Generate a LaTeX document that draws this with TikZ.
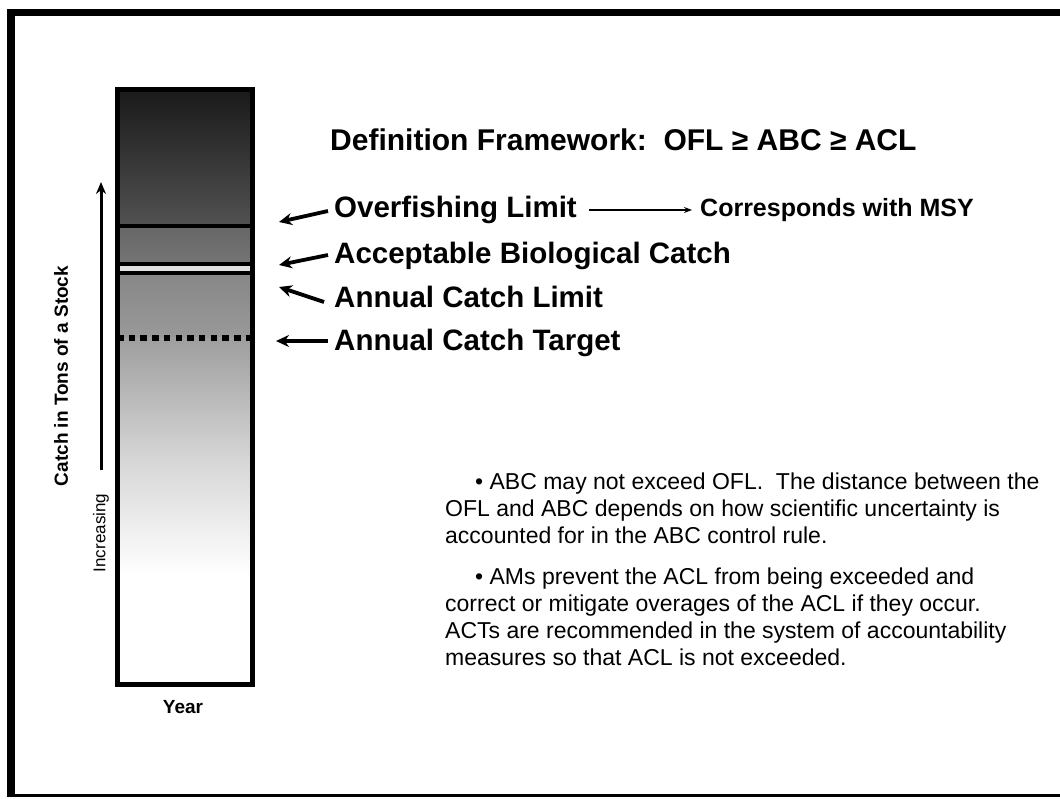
\documentclass[tikz,border=0pt]{standalone}
\usepackage{fontspec}
\setmainfont{Liberation Sans}
\usetikzlibrary{arrows.meta}
\begin{document}
\begin{tikzpicture}[x=1pt,y=-1pt,
  lbl/.style={anchor=west,inner sep=0pt,font=\bfseries\fontsize{29.5}{34}\selectfont},
  ptr/.style={line width=3.8pt,-{Stealth[length=13pt,width=12pt]}},
  limline/.style={line width=4pt,black},
  body/.style={anchor=north west,inner sep=0pt,align=left,font=\fontsize{23}{27}\selectfont}]
\useasboundingbox (0,0) rectangle (1060,799);
\fill[white] (0,0) rectangle (1060,799);
% frame
\draw[line width=7.5pt] (7,12.5) -- (1060,12.5);
\draw[line width=8pt] (11,9) -- (11,797);
\draw[line width=3pt] (7,795) -- (1060,795);
% column shading
\shade[top color=black!90,bottom color=black!68] (117,89) rectangle (253,226);
\shade[top color=black!60,bottom color=black!54] (117,226) rectangle (253,264);
\fill[black!12] (117,264) rectangle (253,273);
\shade[top color=black!47,bottom color=black!40] (117,273) rectangle (253,338);
\shade[top color=black!38,bottom color=black!16] (117,338) rectangle (253,460);
\shade[top color=black!16,bottom color=white] (117,460) rectangle (253,575);
% limit lines
\draw[limline] (117,226) -- (253,226);
\draw[limline] (117,264) -- (253,264);
\draw[limline] (117,273) -- (253,273);
\draw[line width=6.5pt,dash pattern=on 6.5pt off 5.2pt] (117,338) -- (253,338);
% column border
\draw[line width=5pt] (117.5,89.5) rectangle (252.5,684.5);
% axis
\coordinate (axbot) at (101,470);
\coordinate (axtop) at (101,182);
\draw[line width=3pt,-{Stealth[length=12pt,width=10pt]}] (axbot) -- (axtop);
\node[rotate=90,inner sep=0pt,font=\fontsize{17}{20}\selectfont] (inc) at (101,533) {Increasing};
\node[rotate=90,inner sep=0pt,font=\bfseries\fontsize{19}{22}\selectfont] (ylab) at (61,376) {Catch in Tons of a Stock};
\node[inner sep=0pt,font=\bfseries\fontsize{19}{22}\selectfont] (year) at (183,707) {Year};
% title
\node[lbl,font=\bfseries\fontsize{30}{36}\selectfont] (title) at (330,140) {Definition Framework:\ \ OFL ≥ ABC ≥ ACL};
% labels
\node[lbl] (ofl) at (334,210) {Overfishing Limit};
\node[lbl] (abc) at (334,256) {Acceptable Biological Catch};
\node[lbl] (acl) at (334,297) {Annual Catch Limit};
\node[lbl] (act) at (334,343) {Annual Catch Target};
\node[anchor=west,inner sep=0pt,font=\bfseries\fontsize{25}{29}\selectfont] (msy) at (700,210) {Corresponds with MSY};
% pointers
\coordinate (t1) at (279,222); \coordinate (s1) at (328,211);
\coordinate (t2) at (279,265); \coordinate (s2) at (328,255);
\coordinate (t3) at (279,287); \coordinate (s3) at (324,302);
\coordinate (t4) at (276,341); \coordinate (s4) at (328,341);
\draw[ptr] (s1) -- (t1);
\draw[ptr] (s2) -- (t2);
\draw[ptr] (s3) -- (t3);
\draw[ptr] (s4) -- (t4);
\draw[line width=1.2pt,-{Stealth[length=8pt,width=6pt]}] ([xshift=12pt]ofl.east) -- ([xshift=-8pt]msy.west);
% body text
\node[body] (b1) at (445,473) {\hspace*{30pt}• ABC may not exceed OFL.\ \ The distance between the\\OFL and ABC depends on how scientific uncertainty is\\accounted for in the ABC control rule.};
\node[body] (b2) at (445,568) {\hspace*{30pt}• AMs prevent the ACL from being exceeded and\\correct or mitigate overages of the ACL if they occur.\\ACTs are recommended in the system of accountability\\measures so that ACL is not exceeded.};
\end{tikzpicture}
\end{document}
